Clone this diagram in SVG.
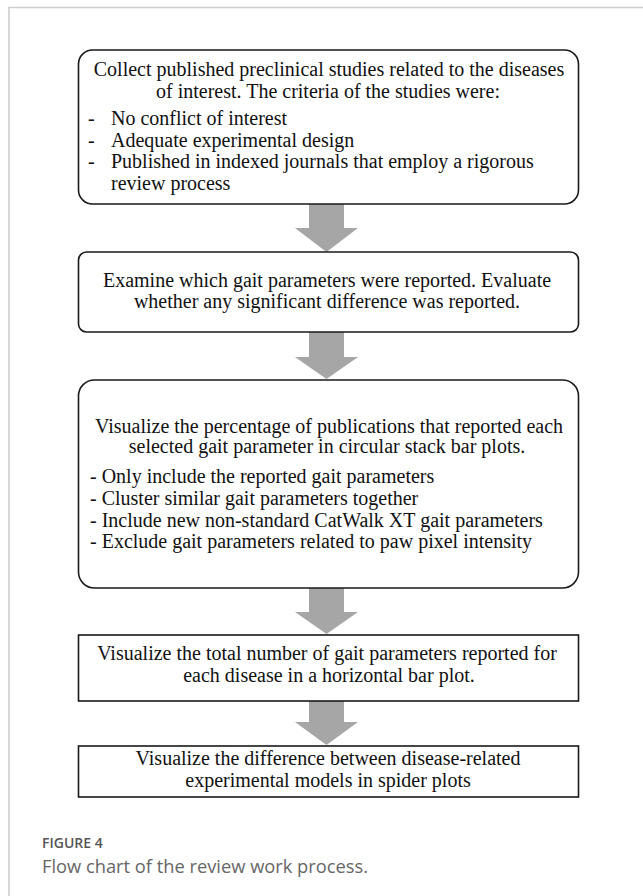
<svg xmlns="http://www.w3.org/2000/svg" width="643" height="896" viewBox="0 0 643 896">
<style>
.box{fill:#fff;stroke:#1a1a1a;stroke-width:1.6}
.t{font-family:"Liberation Serif","Times New Roman",serif;font-size:20px;fill:#111}
.c{text-anchor:middle}
.arr{fill:#a6a6a6}
.frame{stroke:#cfcfcf;stroke-width:1.6;fill:none}
.cap1{font-family:"Open Sans","Noto Sans",sans-serif;font-size:14px;font-weight:600;fill:#555}
.cap2{font-family:"Open Sans","Noto Sans",sans-serif;font-size:18.3px;fill:#666}
</style>
<rect width="643" height="896" fill="#fff"/>
<path class="frame" d="M9 896 V7.5 H643"/>
<g id="connectors">
<path class="arr" d="M309 204 H344 V228 H358 L326.5 252 L295 228 H309 Z"/>
<path class="arr" d="M309 332 H344 V357 H358 L326.5 379 L295 357 H309 Z"/>
<path class="arr" d="M309 588 H344 V612 H358 L326.5 634 L295 612 H309 Z"/>
<path class="arr" d="M309 701 H344 V722 H358 L326.5 745 L295 722 H309 Z"/>
</g>
<g id="node1">
<rect class="box" x="78.5" y="50" width="500" height="154" rx="14"/>
<text class="t c" x="329" y="76">Collect published preclinical studies related to the diseases</text>
<text class="t c" x="328" y="98">of interest. The criteria of the studies were:</text>
<text class="t" x="88" y="125">-</text><text class="t" x="111" y="125">No conflict of interest</text>
<text class="t" x="88" y="147">-</text><text class="t" x="111" y="147">Adequate experimental design</text>
<text class="t" x="88" y="168">-</text><text class="t" x="111" y="168">Published in indexed journals that employ a rigorous</text>
<text class="t" x="111" y="190">review process</text>
</g>
<g id="node2">
<rect class="box" x="78.5" y="252" width="500" height="80" rx="8"/>
<text class="t c" x="327" y="287">Examine which gait parameters were reported. Evaluate</text>
<text class="t c" x="327" y="308">whether any significant difference was reported.</text>
</g>
<g id="node3">
<rect class="box" x="78.5" y="380" width="500" height="208" rx="16"/>
<text class="t c" x="329" y="433">Visualize the percentage of publications that reported each</text>
<text class="t c" x="327" y="453">selected gait parameter in circular stack bar plots.</text>
<text class="t" x="90" y="483">- Only include the reported gait parameters</text>
<text class="t" x="90" y="505">- Cluster similar gait parameters together</text>
<text class="t" x="90" y="527">- Include new non-standard CatWalk XT gait parameters</text>
<text class="t" x="90" y="548">- Exclude gait parameters related to paw pixel intensity</text>
</g>
<g id="node4">
<rect class="box" x="78.5" y="635" width="500" height="66"/>
<text class="t c" x="327" y="660">Visualize the total number of gait parameters reported for</text>
<text class="t c" x="329" y="682">each disease in a horizontal bar plot.</text>
</g>
<g id="node5">
<rect class="box" x="78.5" y="746" width="500" height="51"/>
<text class="t c" x="328" y="765">Visualize the difference between disease-related</text>
<text class="t c" x="328" y="787">experimental models in spider plots</text>
</g>
<text class="cap1" x="42" y="848">FIGURE 4</text>
<text class="cap2" x="42" y="873">Flow chart of the review work process.</text>
</svg>
